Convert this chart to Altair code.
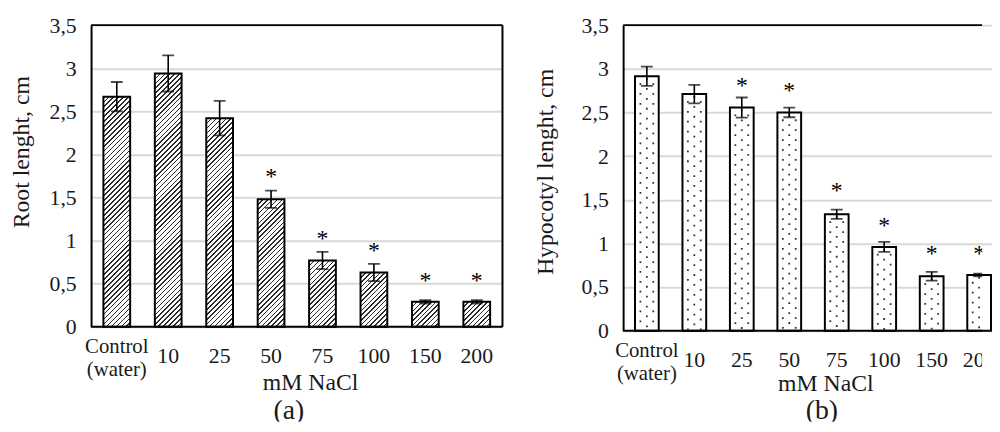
import altair as alt
import pandas as pd

# ---------------- data ----------------
categories = ["Control", "10", "25", "50", "75", "100", "150", "200"]
tick_labels = ["Control\n(water)", "10", "25", "50", "75", "100", "150", "200"]

root_mean = [2.67, 2.94, 2.42, 1.48, 0.77, 0.63, 0.29, 0.29]
root_err = [0.17, 0.21, 0.20, 0.10, 0.10, 0.10, 0.02, 0.02]
root_star = [None, None, None, 1.80, 1.07, 0.94, 0.59, 0.59]

hypo_mean = [2.915, 2.71, 2.556, 2.50, 1.333, 0.96, 0.623, 0.639]
hypo_err = [0.11, 0.105, 0.115, 0.055, 0.053, 0.057, 0.05, 0.015]
hypo_star = [None, None, 2.86, 2.80, 1.66, 1.26, 0.94, 0.94]

y_ticks = [0, 0.5, 1, 1.5, 2, 2.5, 3, 3.5]
x_title = "mM NaCl"
panel_tags = ["(a)", "(b)"]
y_titles = ["Root lenght, cm", "Hypocotyl lenght, cm"]

# ---------------- style ----------------
FONT = "Liberation Serif"
TXT = "#1a1a1a"
GRID = "#d9d9d9"
VIEW_H = 401
Y_MAX = 3.5


def hatch_fill(value, bar_w, px_per_unit, period=5.0, dark=0.32):
    """Diagonal '////' hatch made from a linear gradient with hard stops."""
    h = max(value * px_per_unit, 1.0)
    w = bar_w
    s = (w + h) / (w * w + h * h)
    n = int((w + h) / period) + 1
    stops = []
    for k in range(n):
        a = k / n
        b = min((k + dark) / n, 1.0)
        c = min((k + 1) / n, 1.0)
        stops += [
            {"offset": a, "color": "#2b2b2b"},
            {"offset": b, "color": "#2b2b2b"},
            {"offset": b, "color": "#ffffff"},
            {"offset": c, "color": "#ffffff"},
        ]
    return {"gradient": "linear", "x1": 0, "y1": 0, "x2": s * w, "y2": s * h, "stops": stops}


def panel(means, errs, stars, ytitle, tag, width, xrange, zero_px, pad_in,
          kind, title_x, title_y, xt_x, xt_y, tag_x):
    step = xrange / len(categories)
    bar_w = step * (1 - pad_in)
    ppu = zero_px / Y_MAX
    rows = []
    for c, lab, m, e, st in zip(categories, tick_labels, means, errs, stars):
        r = {"cat": c, "label": lab, "mean": m, "lo": m - e, "hi": m + e, "star": st, "zero": 0}
        if kind == "hatch":
            r["grad"] = hatch_fill(m, bar_w, ppu)
        rows.append(r)
    data = alt.Data(values=rows)
    one = alt.Data(values=[{"top": Y_MAX, "zero": 0}])

    xs = alt.Scale(domain=categories, range=[0, xrange], paddingInner=pad_in, paddingOuter=pad_in / 2)
    ys = alt.Scale(domain=[0, Y_MAX], range=[zero_px, 0], nice=False, zero=True)
    X = alt.X("cat:N", sort=categories, scale=xs, axis=None)

    yaxis = alt.Axis(
        values=y_ticks,
        labelExpr="replace(format(datum.value, '.1~f'), '.', ',')",
        grid=True, gridColor=GRID, gridWidth=2,
        domain=True, domainColor="black", domainWidth=2,
        ticks=False, labelFont=FONT, labelFontSize=22, labelColor=TXT, labelPadding=15,
        title=ytitle, titleFont=FONT, titleFontSize=24, titleFontWeight="normal",
        titleColor=TXT, titleX=title_x, titleY=title_y,
    )

    def Y(field):
        return alt.Y(field, scale=ys, axis=yaxis, title=ytitle)

    base = alt.Chart(data)
    if kind == "hatch":
        bars = base.mark_bar(stroke="black", strokeWidth=2).encode(
            x=X, y=Y("mean:Q"), y2="zero:Q",
            fill=alt.Fill("grad:N", scale=None, legend=None),
        )
        layers = [bars]
    else:
        bars = base.mark_bar(stroke="black", strokeWidth=2, fill="white").encode(
            x=X, y=Y("mean:Q"), y2="zero:Q",
        )
        layers = [bars]
        for off, phase in [(-6.5, 0), (0, 5), (6.5, 0)]:
            layers.append(
                base.mark_rule(xOffset=off, strokeDash=[1.8, 8.2], strokeDashOffset=phase + 3,
                               strokeWidth=1.8, color="#333333", clip=True).encode(
                    x=X, y=Y("mean:Q"), y2="zero:Q",
                )
            )

    err = base.mark_rule(color="black", strokeWidth=1.6, clip=True).encode(
        x=X, y=Y("lo:Q"), y2="hi:Q")
    cap_lo = base.mark_tick(color="black", thickness=1.8, size=12, clip=True).encode(
        x=X, y=Y("lo:Q"))
    cap_hi = base.mark_tick(color="black", thickness=1.8, size=12, clip=True).encode(
        x=X, y=Y("hi:Q"))
    star = base.mark_text(text="*", font=FONT, fontSize=24, color="black", dy=5,
                          baseline="middle", clip=True).encode(
        x=X, y=Y("star:Q")).transform_filter("datum.star != null")

    # frame lines
    top = alt.Chart(one).mark_rule(color="black", strokeWidth=2).encode(
        y=Y("top:Q"), x=alt.value(0), x2=alt.value(width))
    bottom = alt.Chart(one).mark_rule(color="black", strokeWidth=2).encode(
        y=Y("zero:Q"), x=alt.value(0), x2=alt.value(width))
    frame = [top, bottom]
    if width >= xrange:
        frame.append(alt.Chart(one).mark_rule(color="black", strokeWidth=2).encode(
            x=alt.value(width), y=Y("zero:Q"), y2="top:Q"))

    # category labels
    num_lab = base.mark_text(font=FONT, fontSize=22, color=TXT, baseline="alphabetic",
                             clip=True).encode(
        x=X, y=alt.value(zero_px + 37), text="label:N").transform_filter("datum.cat != 'Control'")
    ctl_lab = base.mark_text(font=FONT, fontSize=21, color=TXT, baseline="alphabetic",
                             lineBreak="\n", lineHeight=23).encode(
        x=X, y=alt.value(zero_px + 27), text="label:N").transform_filter("datum.cat == 'Control'")

    t_df = alt.Data(values=[{"t": x_title, "g": tag}])
    xt = alt.Chart(t_df).mark_text(font=FONT, fontSize=24, color=TXT, baseline="alphabetic").encode(
        text="t:N", x=alt.value(xt_x), y=alt.value(xt_y))
    tg = alt.Chart(t_df).mark_text(font=FONT, fontSize=28, color=TXT, baseline="alphabetic",
                                   clip=True).encode(
        text="g:N", x=alt.value(tag_x), y=alt.value(VIEW_H - 3))

    return alt.layer(*layers, err, cap_lo, cap_hi, star, *frame, num_lab, ctl_lab, xt, tg).properties(
        width=width, height=VIEW_H)


left = panel(root_mean, root_err, root_star, y_titles[0], panel_tags[0],
             width=416, xrange=416, zero_px=305, pad_in=0.48, kind="hatch",
             title_x=-58, title_y=128, xt_x=222, xt_y=369, tag_x=200)
right = panel(hypo_mean, hypo_err, hypo_star, y_titles[1], panel_tags[1],
              width=363, xrange=384, zero_px=309, pad_in=0.5, kind="dots",
              title_x=-66, title_y=148, xt_x=205, xt_y=370, tag_x=201)

chart = alt.hconcat(left, right, spacing=122, bounds="flush").properties(
    padding={"left": 1, "top": 4, "right": 0, "bottom": 0}
).configure_view(strokeWidth=0)

chart.save("out.html", embed_options={"renderer": "svg", "actions": False})
